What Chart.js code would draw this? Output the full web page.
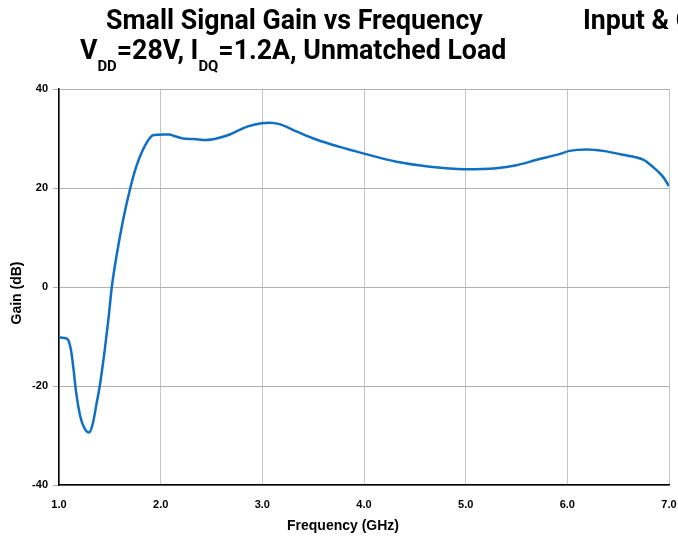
<!DOCTYPE html>
<html>
<head>
<meta charset="utf-8">
<script src="https://cdn.jsdelivr.net/npm/chart.js@4"></script>
<style>
  html, body { margin: 0; padding: 0; background: #fff; }
  #wrap { position: relative; width: 678px; height: 538px; overflow: hidden; }
  #chart { position: absolute; left: 0; top: 0; }
  .ttl {
    position: absolute; white-space: nowrap;
    font-family: Roboto, sans-serif; font-weight: 700; font-size: 27px; line-height: 30px;
    color: #000; transform-origin: left top; transform: scaleX(0.99);
  }
  .ttl sub { font-size: 15px; vertical-align: -12px; line-height: 0; }
</style>
</head>
<body>
<div id="wrap">
  <canvas id="chart" width="678" height="538"></canvas>
  <div class="ttl" style="left:106px; top:5px;">Small Signal Gain vs Frequency</div>
  <div class="ttl" style="left:80px; top:35px;">V<sub>DD</sub>=28V, I<sub>DQ</sub>=1.2A, Unmatched Load</div>
  <div class="ttl" style="left:583px; top:5px;">Input &amp; Output Return Loss</div>
</div>
<script>
// frequency (GHz) and small signal gain (dB)
const freqGHz = [1.00, 1.05, 1.09, 1.12, 1.14, 1.17, 1.21, 1.25, 1.295, 1.33, 1.37, 1.40, 1.45, 1.485,
  1.52, 1.57, 1.63, 1.70, 1.76, 1.85, 1.93, 2.03, 2.09, 2.12, 2.22, 2.32, 2.45, 2.55, 2.68, 2.85,
  2.99, 3.07, 3.17, 3.34, 3.53, 3.76, 3.99, 4.32, 4.65, 4.98, 5.30, 5.50, 5.70, 5.93, 6.02, 6.19,
  6.35, 6.55, 6.75, 6.84, 6.94, 7.00];
const gainDb = [-10.2, -10.3, -10.7, -13.0, -16.1, -21.5, -26.2, -28.5, -29.4, -27.8, -23.5, -20.1, -12.7, -6.7,
  0.1, 6.8, 13.5, 19.9, 24.3, 28.7, 30.7, 30.8, 30.8, 30.6, 30.0, 29.9, 29.7, 30.0, 30.8, 32.4,
  33.1, 33.2, 32.9, 31.4, 29.8, 28.3, 27.0, 25.3, 24.3, 23.8, 24.0, 24.6, 25.7, 26.9, 27.5, 27.8,
  27.5, 26.7, 25.7, 24.3, 22.3, 20.4];

const xTicks = [1, 2, 3, 4, 5, 6, 7];
const yTicks = [-40, -20, 0, 20, 40];
const xTitle = "Frequency (GHz)";
const yTitle = "Gain (dB)";

const points = freqGHz.map((f, i) => ({ x: f, y: gainDb[i] }));

const tickFont = { family: "'Liberation Sans', Arial, sans-serif", size: 11, weight: "bold" };
const axisTitleFont = "bold 14px 'Liberation Sans', Arial, sans-serif";

// axis titles sit a bit off-centre in the original, so draw them by hand
const axisTitles = {
  id: "axisTitles",
  afterDraw(chart) {
    const ctx = chart.ctx;
    ctx.save();
    ctx.fillStyle = "#000";
    ctx.font = axisTitleFont;
    ctx.textAlign = "center";
    ctx.textBaseline = "alphabetic";
    ctx.fillText(xTitle, 343, 530);
    ctx.translate(21, 293);
    ctx.rotate(-Math.PI / 2);
    ctx.fillText(yTitle, 0, 0);
    ctx.restore();
  },
};

new Chart(document.getElementById("chart"), {
  type: "line",
  data: {
    datasets: [{
      data: points,
      borderColor: "#0f6fc2",
      borderWidth: 2.5,
      pointRadius: 0,
      fill: false,
      cubicInterpolationMode: "monotone",
    }],
  },
  options: {
    responsive: false,
    animation: false,
    layout: { padding: { top: 89, right: 9, left: 0, bottom: 0 } },
    plugins: { legend: { display: false }, tooltip: { enabled: false } },
    scales: {
      x: {
        type: "linear",
        min: 1, max: 7,
        afterBuildTicks: (s) => { s.ticks = xTicks.map((v) => ({ value: v })); },
        afterFit: (s) => { s.height = 53; s.paddingLeft = 0; s.paddingRight = 0; },
        ticks: {
          color: "#000", font: tickFont, padding: 13, maxRotation: 0,
          callback: (v) => v.toFixed(1),
        },
        grid: { color: "#c4c4c4", lineWidth: 1, drawTicks: false },
        border: { color: "#000", width: 1.5 },
      },
      y: {
        min: -40, max: 40,
        afterBuildTicks: (s) => { s.ticks = yTicks.map((v) => ({ value: v })); },
        afterFit: (s) => { s.width = 59; s.paddingTop = 0; s.paddingBottom = 0; },
        ticks: { color: "#000", font: tickFont, padding: 5 },
        grid: { color: "#b0b0b0", lineWidth: 1, tickLength: 6 },
        border: { color: "#000", width: 1.5 },
      },
    },
  },
  plugins: [axisTitles],
});
</script>
</body>
</html>
